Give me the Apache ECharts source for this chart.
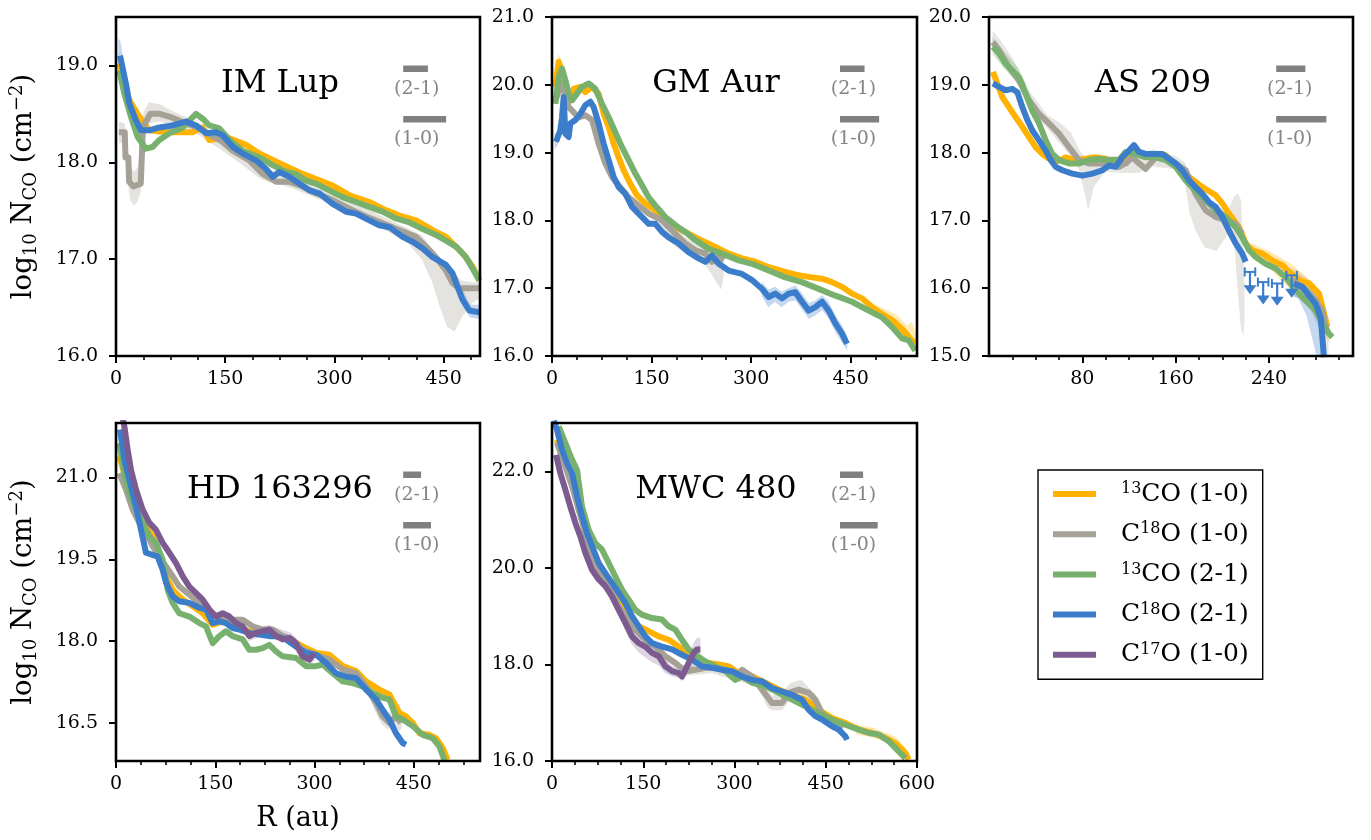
<!DOCTYPE html>
<html><head><meta charset="utf-8">
<script src="https://cdn.jsdelivr.net/npm/echarts@6/dist/echarts.min.js"></script>
<style>html,body{margin:0;padding:0;background:#fff}#c{width:1371px;height:840px}</style>
</head><body><div id="c"></div>
<script>
// ---------------- DATA (R in au, log10 N_CO in cm^-2) ----------------
const SERIES_NAMES = ['13CO (1-0)', 'C18O (1-0)', '13CO (2-1)', 'C18O (2-1)', 'C17O (1-0)'];
const PANEL_TITLES = ['IM Lup', 'GM Aur', 'AS 209', 'HD 163296', 'MWC 480'];
const BEAM_21 = [34, 37, 25, 27, 38];   // au
const BEAM_10 = [59, 59, 43, 42, 62];   // au

// IM Lup
const IMLUP_13CO10 = [[4.6,19.02],[18.3,18.64],[32.1,18.47],[45.8,18.33],[68.7,18.31],[91.6,18.31],[105.3,18.31],[119.1,18.36],[128.2,18.23],[151.1,18.26],[178.6,18.18],[196.9,18.09],[224.4,17.99],[256.4,17.88],[297.6,17.76],[320.5,17.66],[348,17.59],[366.3,17.52],[389.2,17.45],[412.1,17.40],[435,17.30],[453.3,17.23],[476.2,17.06],[490,16.92],[499.1,16.78]];
const IMLUP_C18O10 = [[4,18.31],[12,18.31],[13,18.05],[17,18.05],[18,17.8],[24,17.75],[34,17.78],[37,18.36],[47,18.5],[60,18.5],[74,18.47],[90,18.42],[115,18.35],[130,18.28],[145,18.22],[160.3,18.12],[183.2,18.02],[201.5,17.88],[219.8,17.80],[238.1,17.80],[256.4,17.75],[274.7,17.68],[297.6,17.61],[320.5,17.52],[343.4,17.44],[366.3,17.37],[389.2,17.30],[412.1,17.23],[425.8,17.13],[439.6,17.02],[453.3,16.88],[462.5,16.75],[471.6,16.70],[500,16.70]];
const IMLUP_13CO21 = [[4.6,18.95],[11.4,18.71],[20.6,18.47],[29.8,18.26],[41.2,18.14],[50.4,18.16],[59.5,18.23],[73.3,18.30],[91.6,18.36],[109.9,18.50],[119.1,18.45],[128.2,18.38],[142,18.35],[155.7,18.23],[174,18.12],[196.9,18.05],[215.2,17.97],[233.5,17.90],[247.3,17.88],[261,17.81],[274.7,17.78],[293.1,17.71],[311.4,17.64],[329.7,17.59],[348,17.54],[366.3,17.49],[384.6,17.42],[403,17.38],[421.3,17.31],[439.6,17.25],[453.3,17.19],[467.1,17.13],[480.8,17.02],[490,16.90],[499.1,16.78]];
const IMLUP_C18O21 = [[5.5,19.10],[13.7,18.81],[18.3,18.61],[27.5,18.43],[34.3,18.33],[45.8,18.33],[59.5,18.36],[77.8,18.38],[96.2,18.42],[109.9,18.38],[123.6,18.30],[137.4,18.31],[146.5,18.28],[160.3,18.16],[174,18.09],[192.3,18.02],[206.1,17.93],[215.2,17.85],[224.4,17.90],[238.1,17.85],[251.8,17.78],[265.6,17.71],[279.3,17.68],[297.6,17.57],[316,17.49],[329.7,17.47],[348,17.40],[361.7,17.35],[375.5,17.33],[393.8,17.23],[407.5,17.18],[421.3,17.11],[435,17.02],[453.3,16.94],[462.5,16.85],[469.3,16.71],[476.2,16.58],[485.4,16.47],[499.1,16.45]];
const IMLUP_C18O10_BAND = [[4,18.2,18.42],[12,18.2,18.4],[14,17.95,18.2],[17,17.75,18.1],[20,17.6,17.95],[25,17.55,17.9],[30,17.6,17.95],[34,17.7,18.2],[37,18.2,18.5],[45,18.4,18.62],[60,18.42,18.6],[80,18.38,18.52],[110,18.3,18.42],[160,18.05,18.18],[200,17.82,17.95],[240,17.74,17.86],[300,17.55,17.67],[350,17.38,17.5],[400,17.17,17.32],[420,17.0,17.25],[435,16.75,17.1],[445,16.5,17.0],[455,16.3,16.95],[465,16.25,16.85],[475,16.4,16.78],[490,16.55,16.76],[500,16.6,16.76]];
const IMLUP_C18O21_BAND = [[3,18.95,19.28],[6,18.98,19.25],[9,18.85,19.12],[14,18.7,18.88],[20,18.5,18.65]];
const IMLUP_C18O21_BAND2 = [[462,16.8,16.92],[470,16.62,16.8],[478,16.5,16.66],[486,16.4,16.53],[500,16.38,16.53]];

// GM Aur
const GMAUR_13CO10 = [[5,19.97],[10,20.34],[15.1,20.21],[20.1,19.97],[25.1,19.77],[32.6,19.94],[42.7,19.97],[50.2,19.89],[60.3,19.97],[70.3,19.87],[77.9,19.57],[85.4,19.38],[92.9,19.13],[100.5,18.93],[108,18.74],[118,18.54],[128.1,18.37],[140.6,18.25],[155.7,18.15],[170.8,18.00],[185.9,17.90],[200.9,17.83],[216,17.75],[231.1,17.68],[246.1,17.61],[266.2,17.51],[286.3,17.44],[306.4,17.39],[326.5,17.31],[351.6,17.24],[371.7,17.19],[391.8,17.16],[406.9,17.14],[421.9,17.09],[437,17.02],[452.1,16.92],[467.1,16.85],[482.2,16.72],[497.3,16.62],[512.3,16.53],[527.4,16.40],[537.5,16.28],[547.5,16.18]];
const GMAUR_C18O10 = [[5,19.77],[15.1,20.02],[25.1,19.67],[40.2,19.52],[50.2,19.55],[60.3,19.48],[70.3,19.13],[80.4,18.84],[90.4,18.64],[100.5,18.52],[115.5,18.34],[130.6,18.22],[145.7,18.10],[165.8,18.00],[185.9,17.80],[200.9,17.66],[216,17.56],[231.1,17.51],[241.1,17.39],[251.2,17.46],[258.7,17.41]];
const GMAUR_13CO21 = [[5,19.72],[10,20.11],[15.1,20.24],[20.1,20.07],[25.1,19.87],[30.1,19.77],[37.7,19.87],[45.2,19.97],[55.3,20.02],[65.3,19.94],[75.3,19.72],[85.4,19.52],[95.4,19.30],[105.5,19.08],[115.5,18.89],[125.6,18.69],[135.6,18.52],[145.7,18.34],[155.7,18.22],[170.8,18.05],[185.9,17.93],[200.9,17.83],[216,17.71],[236.1,17.58],[256.2,17.51],[281.3,17.41],[301.4,17.36],[326.5,17.26],[351.6,17.16],[376.7,17.09],[401.8,16.99],[427,16.89],[452.1,16.80],[477.2,16.67],[497.3,16.57],[512.3,16.43],[527.4,16.26],[537.5,16.23],[547.5,16.08]];
const GMAUR_C18O21 = [[6,19.16],[12.6,19.33],[15.1,19.52],[17.6,19.82],[20.1,19.28],[25.1,19.23],[27.6,19.43],[35.2,19.48],[42.7,19.57],[50.2,19.70],[57.8,19.75],[62.8,19.67],[70.3,19.43],[77.9,19.13],[85.4,18.89],[92.9,18.64],[100.5,18.49],[110.5,18.39],[120.6,18.20],[130.6,18.10],[145.7,17.95],[155.7,17.95],[165.8,17.83],[175.8,17.75],[190.9,17.66],[205.9,17.53],[221,17.44],[231.1,17.39],[241.1,17.48],[251.2,17.36],[266.2,17.26],[286.3,17.21],[301.4,17.12],[316.4,16.99],[326.5,16.87],[336.5,16.92],[346.6,16.85],[356.6,16.92],[366.7,16.94],[376.7,16.80],[386.8,16.67],[396.8,16.72],[406.9,16.80],[416.9,16.67],[427,16.48],[437,16.33],[444.5,16.18]];
const GMAUR_13CO10_BAND = [[4,19.88,20.06],[10,20.24,20.46],[15,20.1,20.32],[20,19.9,20.05]];
const GMAUR_13CO10_BAND2 = [[480,16.66,16.8],[500,16.53,16.7],[520,16.4,16.6],[535,16.22,16.45],[542,16.18,16.5],[550,16.08,16.3]];
const GMAUR_C18O10_BAND = [[160,17.88,18.06],[175,17.72,17.95],[185,17.62,17.9],[200,17.52,17.76],[216,17.45,17.66],[230,17.36,17.62],[241,17.2,17.56],[250,17.05,17.56],[255,16.98,17.6],[259,17.2,17.55]];
const GMAUR_C18O21_BAND = [[4,19.05,19.28],[8,19.1,19.3],[12,19.2,19.45]];
const GMAUR_C18O21_BAND2 = [[316,16.88,17.1],[326,16.72,16.98],[336,16.8,17.02],[346,16.72,16.95],[356,16.8,17.0],[367,16.82,17.04],[377,16.68,16.92],[387,16.55,16.78],[397,16.6,16.82],[407,16.68,16.9],[417,16.55,16.8],[427,16.35,16.6],[437,16.2,16.45],[445,16.08,16.28]];

// AS 209
const AS209_13CO10 = [[3.4,19.19],[7.1,19.02],[11.4,18.82],[17.1,18.67],[22.9,18.52],[28.6,18.38],[34.3,18.23],[40,18.08],[45.7,17.98],[51.4,17.91],[57.1,17.86],[65.7,17.93],[74.3,17.89],[82.9,17.91],[91.4,17.93],[100,17.91],[108.6,17.84],[117.1,17.93],[125.7,18.01],[134.3,17.96],[142.9,17.98],[151.4,17.96],[160,17.81],[171.4,17.64],[182.9,17.49],[194.3,17.37],[200,17.25],[205.7,17.10],[214.3,16.90],[220,16.66],[225.7,16.56],[234.3,16.51],[242.9,16.41],[251.4,16.34],[257.1,16.24],[265.7,16.12],[274.3,16.07],[282.9,15.92],[288.6,15.53],[290,15.43]];
const AS209_C18O10 = [[3.4,19.63],[8.6,19.51],[17.1,19.26],[25.7,19.07],[34.3,18.77],[42.9,18.57],[51.4,18.43],[60,18.28],[68.6,18.08],[77.1,17.89],[85.7,17.84],[94.3,17.84],[102.9,17.84],[111.4,17.79],[117.1,17.84],[122.9,17.93],[128.6,17.84],[134.3,17.76],[142.9,17.93],[151.4,17.93],[160,17.84],[168.6,17.74],[177.1,17.39],[185.7,17.15],[194.3,17.05],[202.9,17.00],[211.4,16.95],[217.1,16.80],[240,null],[260,16.12],[271.4,15.97],[280,15.82],[285.7,15.67],[290,15.33]];
const AS209_13CO21 = [[3.4,19.56],[8.6,19.46],[14.3,19.31],[20,19.21],[25.7,19.11],[31.4,18.87],[37.1,18.62],[42.9,18.43],[48.6,18.18],[54.3,17.98],[60,17.89],[68.6,17.84],[77.1,17.84],[85.7,17.89],[94.3,17.91],[102.9,17.89],[111.4,17.89],[117.1,18.01],[125.7,17.98],[134.3,17.93],[142.9,17.93],[151.4,17.89],[160,17.79],[168.6,17.59],[177.1,17.44],[185.7,17.30],[194.3,17.15],[202.9,17.05],[211.4,16.90],[217.1,16.75],[222.9,16.56],[228.6,16.46],[237.1,16.36],[245.7,16.29],[254.3,16.16],[262.9,15.97],[271.4,15.82],[280,15.67],[285.7,15.48],[291.4,15.33],[294.3,15.28]];
const AS209_C18O21 = [[3.4,19.02],[8.6,18.97],[14.3,18.92],[20,18.94],[24.3,18.89],[28.6,18.67],[32.9,18.48],[37.1,18.33],[42.9,18.18],[48.6,18.03],[52.9,17.89],[57.1,17.79],[62.9,17.74],[71.4,17.69],[80,17.66],[88.6,17.69],[97.1,17.74],[102.9,17.81],[108.6,17.79],[114.3,17.93],[120,18.03],[124.3,18.11],[128.6,18.01],[134.3,17.98],[148.6,17.98],[154.3,17.91],[160,17.84],[165.7,17.74],[171.4,17.59],[177.1,17.49],[182.9,17.39],[188.6,17.27],[194.3,17.20],[200,17.05],[205.7,16.85],[211.4,16.66],[217.1,16.51],[220,16.39],[240,null],[261.4,16.07],[268.6,16.02],[274.3,15.89],[280,15.77],[284.3,15.57],[285.7,15.28],[287.1,14.98]];
const AS209_C18O21_ULIM = [[223.7,16.24],[235,16.09],[247,16.07],[259.4,16.19]];
const AS209_C18O10_BAND = [[3,19.5,19.8],[10,19.4,19.65],[20,19.15,19.4],[35,18.65,18.9],[50,18.35,18.55],[60,18.15,18.45],[70,17.95,18.3],[77,17.75,18.05],[82,17.4,17.95],[85,17.15,17.95],[90,17.5,17.95],[100,17.72,17.95],[115,17.7,17.95],[128,17.7,17.95],[140,17.8,18.05],[160,17.75,17.95],[168,17.55,17.85],[172,17.1,17.6],[177,16.85,17.5],[185,16.6,17.3],[195,16.55,17.2],[205,16.8,17.15],[210,16.7,17.35],[213,16.0,17.4],[216,15.4,17.3],[218,15.3,16.5],[219,15.5,16.0]];
const AS209_C18O10_BAND2 = [[258,15.9,16.3],[265,15.85,16.25],[275,15.7,16.1],[283,15.4,15.95],[288,15.1,15.75],[291,15.0,15.5]];
const AS209_C18O21_BAND = [[258,15.9,16.25],[265,15.85,16.2],[272,15.6,16.1],[278,15.2,15.95],[282,14.9,15.85],[286,14.9,15.6],[288,14.9,15.1]];
const AS209_13CO10_BAND = [[225,16.45,16.66],[240,16.3,16.55],[250,16.12,16.45],[260,15.95,16.35],[270,15.9,16.2],[280,15.6,16.05],[288,15.3,15.7],[292,15.2,15.45]];
const AS209_13CO21_BAND = [[3,19.45,19.7],[15,19.2,19.45],[25,19.0,19.25],[32,18.8,19.0]];

// HD 163296
const HD_13CO10 = [[5,21.39],[15.1,20.96],[25.2,20.53],[35.3,20.23],[45.3,20.10],[55.4,19.92],[65.5,19.62],[75.6,19.19],[85.6,18.94],[100.7,18.76],[115.9,18.64],[131,18.51],[146.1,18.30],[161.2,18.36],[181.3,18.27],[201.5,18.18],[221.6,18.15],[241.8,18.09],[261.9,18.03],[282.1,17.90],[302.2,17.78],[322.4,17.75],[342.5,17.54],[362.7,17.45],[377.8,17.26],[397.9,17.11],[413,17.02],[428.1,16.68],[438.2,16.62],[448.3,16.50],[458.4,16.31],[473.5,16.28],[483.6,16.22],[493.6,16.04],[501.2,15.82]];
const HD_C18O10 = [[5,21.08],[15.1,20.78],[25.2,20.41],[35.3,20.17],[45.3,19.98],[55.4,19.74],[65.5,19.55],[75.6,19.37],[85.6,19.19],[95.7,19.00],[110.8,18.85],[125.9,18.70],[141,18.51],[156.1,18.45],[176.3,18.39],[191.4,18.39],[206.5,18.27],[221.6,18.21],[236.7,18.21],[251.9,18.09],[267,18.03],[282.1,17.84],[302.2,17.75],[322.4,17.66],[342.5,17.48],[362.7,17.41],[377.8,17.17],[392.9,16.86],[403,16.62],[413,16.50],[423.1,16.62],[430.7,16.50]];
const HD_13CO21 = [[5,21.63],[12.6,21.08],[20.1,20.72],[30.2,20.41],[40.3,20.17],[50.4,19.92],[60.4,19.80],[70.5,19.49],[78.1,18.94],[85.6,18.70],[95.7,18.51],[110.8,18.45],[125.9,18.33],[136,18.27],[146.1,17.96],[156.1,18.09],[166.2,18.18],[176.3,18.09],[191.4,18.03],[201.5,17.84],[211.6,17.84],[221.6,17.87],[231.7,17.93],[241.8,17.81],[251.9,17.72],[272,17.69],[287.1,17.54],[302.2,17.54],[312.3,17.57],[327.4,17.41],[342.5,17.26],[357.6,17.23],[372.7,17.17],[387.8,17.05],[403,16.96],[413,16.93],[423.1,16.62],[433.2,16.56],[448.3,16.44],[463.4,16.28],[478.5,16.22],[488.6,16.07],[496.1,15.82]];
const HD_C18O21 = [[6,21.88],[12.6,21.33],[20.1,20.96],[30.2,20.47],[37.8,20.04],[45.3,19.62],[55.4,19.58],[63,19.55],[70.5,19.31],[75.6,19.07],[85.6,18.82],[95.7,18.73],[110.8,18.70],[125.9,18.61],[136,18.58],[146.1,18.33],[156.1,18.36],[166.2,18.33],[176.3,18.24],[186.4,18.21],[201.5,18.15],[216.6,18.12],[231.7,18.09],[241.8,18.09],[256.9,18.03],[272,17.90],[287.1,17.78],[302.2,17.75],[317.3,17.60],[332.4,17.41],[347.6,17.35],[362.7,17.32],[377.8,17.11],[392.9,16.93],[403,16.74],[413,16.56],[423.1,16.31],[433.2,16.13],[438.2,16.10]];
const HD_C17O10 = [[10,22.1],[12.6,21.94],[17.6,21.51],[22.7,21.14],[30.2,20.78],[40.3,20.41],[50.4,20.17],[60.4,20.04],[70.5,19.80],[80.6,19.62],[90.7,19.43],[100.7,19.19],[110.8,19.00],[121,18.88],[131,18.76],[141,18.58],[151.1,18.45],[161.2,18.51],[171.3,18.45],[181.3,18.33],[191.4,18.27],[201.5,18.09],[211.6,18.15],[221.6,18.18],[231.7,18.21],[241.8,18.09],[251.9,18.03],[261.9,18.06],[272,17.96],[282.1,17.72],[292.1,17.66],[299.7,17.78]];
const HD_C18O10_BAND = [[380,17.05,17.3],[390,16.75,17.02],[400,16.5,16.8],[410,16.38,16.65],[420,16.45,16.8],[428,16.35,16.85],[432,16.4,16.7]];
const HD_C17O10_BAND = [[200,18.0,18.2],[230,18.12,18.3],[265,17.95,18.15],[282,17.6,17.85],[292,17.55,17.8],[300,17.65,17.9]];

// MWC 480
const MWC_13CO10 = [[8.2,22.65],[16.4,22.31],[24.7,22.03],[32.9,21.83],[43.8,21.21],[54.8,20.79],[65.8,20.38],[76.7,20.10],[87.7,19.82],[98.6,19.55],[109.6,19.34],[120.6,19.13],[131.5,18.93],[142.5,18.79],[158.9,18.69],[175.4,18.58],[191.8,18.51],[208.2,18.37],[224.7,18.20],[241.1,18.10],[257.6,18.03],[274,18.00],[290.4,17.96],[306.9,17.82],[328.8,17.75],[350.7,17.62],[372.6,17.48],[394.6,17.37],[416.5,17.27],[438.4,17.06],[460.3,16.89],[482.2,16.79],[504.2,16.65],[526.1,16.58],[548,16.48],[564.4,16.37],[580.9,16.17],[586.4,16.03]];
const MWC_C18O10 = [[8.2,22.59],[21.9,22.10],[32.9,21.69],[43.8,21.21],[54.8,20.72],[65.8,20.24],[76.7,19.89],[87.7,19.69],[98.6,19.48],[109.6,19.20],[120.6,19.00],[137,18.72],[153.4,18.51],[169.9,18.37],[186.3,18.17],[202.8,18.03],[219.2,17.86],[235.6,17.89],[252.1,17.93],[268.5,17.93],[285,17.89],[301.4,17.75],[312.4,17.89],[328.8,17.75],[345.2,17.48],[361.7,17.20],[378.1,17.20],[389.1,17.41],[405.5,17.48],[422,17.41],[432.9,17.27],[443.9,16.99],[454.8,16.86],[465.8,16.72],[476.8,16.65]];
const MWC_13CO21 = [[11,22.93],[21.9,22.59],[32.9,22.24],[41.1,22.03],[49.3,21.27],[60.3,20.79],[71.2,20.51],[82.2,20.38],[93.2,20.10],[104.1,19.82],[115.1,19.55],[126,19.34],[137,19.13],[148,19.03],[164.4,18.96],[180.8,18.93],[191.8,18.79],[202.8,18.72],[213.7,18.51],[224.7,18.31],[235.6,18.20],[252.1,18.06],[268.5,17.96],[285,17.86],[301.4,17.68],[312.4,17.75],[328.8,17.62],[350.7,17.55],[372.6,17.41],[394.6,17.27],[416.5,17.13],[438.4,16.99],[460.3,16.86],[482.2,16.75],[504.2,16.65],[520.6,16.58],[537,16.55],[553.5,16.41],[569.9,16.20],[580.9,16.06]];
const MWC_C18O21 = [[3,23.05],[8.2,22.86],[16.4,22.45],[24.7,22.17],[32.9,21.96],[41.1,21.48],[49.3,21.07],[57.5,20.72],[65.8,20.45],[76.7,20.10],[87.7,19.89],[98.6,19.69],[109.6,19.48],[120.6,19.27],[131.5,19.00],[142.5,18.79],[153.4,18.58],[164.4,18.44],[180.8,18.37],[197.3,18.31],[213.7,18.20],[230.2,18.10],[246.6,17.96],[263,17.93],[279.5,17.89],[295.9,17.86],[312.4,17.75],[328.8,17.68],[345.2,17.65],[361.7,17.51],[378.1,17.44],[394.6,17.37],[411,17.27],[422,17.06],[432.9,16.93],[443.9,16.86],[460.3,16.72],[471.3,16.65],[482.2,16.51],[485,16.44]];
const MWC_C17O10 = [[6.6,22.34],[13.7,21.96],[21.9,21.62],[30.1,21.27],[38.4,20.93],[46.6,20.65],[54.8,20.31],[65.8,19.96],[76.7,19.76],[87.7,19.62],[98.6,19.41],[109.6,19.13],[120.6,18.86],[131.5,18.58],[142.5,18.44],[153.4,18.37],[164.4,18.24],[175.4,18.17],[186.3,17.96],[197.3,17.86],[208.2,17.82],[213.7,17.75],[219.2,17.89],[224.7,18.03],[232.9,18.24],[238.4,18.31],[243.9,18.31]];
const MWC_C18O10_BAND = [[215,17.75,17.98],[230,17.78,17.98],[250,17.8,18.0],[262,17.82,18.02],[335,17.55,17.8],[345,17.35,17.65],[355,17.1,17.45],[362,17.05,17.35],[370,17.05,17.4],[378,17.05,17.4],[390,17.25,17.6],[400,17.35,17.65],[410,17.35,17.68],[420,17.25,17.55],[432,17.1,17.4],[444,16.88,17.1]];
const MWC_C17O10_BAND = [[110,19.0,19.25],[120,18.72,19.0],[131,18.42,18.75],[142,18.25,18.62],[153,18.15,18.55],[164,18.05,18.45],[175,17.98,18.35],[186,17.82,18.1],[197,17.75,17.98],[208,17.72,17.92],[214,17.65,17.85],[219,17.75,18.0],[225,17.85,18.2],[233,17.95,18.45],[238,18.0,18.55],[244,18.05,18.55]];
const MWC_13CO10_BAND = [[500,16.55,16.76],[530,16.48,16.68],[550,16.38,16.58],[565,16.25,16.5],[580,16.05,16.3],[587,15.95,16.15]];

// axis ticks
const X_TICKS = [[0,150,300,450],[0,150,300,450],[80,160,240],[0,150,300,450],[0,150,300,450,600]];
const X_MINOR_STEP = [37.5, 37.5, 20, 37.5, 37.5];
const Y_TICKS = [[16,17,18,19],[16,17,18,19,20,21],[15,16,17,18,19,20],[16.5,18,19.5,21],[16,18,20,22]];
const X_RANGE = [[0,500],[0,550],[0,312],[0,550],[0,600]];
const Y_RANGE = [[16,19.5],[16,21],[15,20],[15.8,22],[16,23]];

// ---------------- LAYOUT / STYLE ----------------
const FONT = 'DejaVu Serif';
const COLORS = ['#ffb300', '#a5a196', '#78b16d', '#3b7dca', '#7c5c90'];
const GRIDS = [
  {left:116, top:17, width:364, height:339},
  {left:552, top:17, width:365, height:339},
  {left:989, top:17, width:364, height:339},
  {left:116, top:423, width:364, height:338},
  {left:552, top:423, width:365, height:338}
];
const PANEL_LINES = [
  [[0,IMLUP_13CO10],[1,IMLUP_C18O10],[2,IMLUP_13CO21],[3,IMLUP_C18O21]],
  [[0,GMAUR_13CO10],[1,GMAUR_C18O10],[2,GMAUR_13CO21],[3,GMAUR_C18O21]],
  [[0,AS209_13CO10],[1,AS209_C18O10],[2,AS209_13CO21],[3,AS209_C18O21]],
  [[0,HD_13CO10],[1,HD_C18O10],[2,HD_13CO21],[3,HD_C18O21],[4,HD_C17O10]],
  [[0,MWC_13CO10],[1,MWC_C18O10],[2,MWC_13CO21],[3,MWC_C18O21],[4,MWC_C17O10]]
];
const PANEL_BANDS = [
  [[1,IMLUP_C18O10_BAND,0.3],[3,IMLUP_C18O21_BAND,0.3],[3,IMLUP_C18O21_BAND2,0.3]],
  [[0,GMAUR_13CO10_BAND,0.3],[0,GMAUR_13CO10_BAND2,0.3],[1,GMAUR_C18O10_BAND,0.3],[3,GMAUR_C18O21_BAND,0.3],[3,GMAUR_C18O21_BAND2,0.3]],
  [[1,AS209_C18O10_BAND,0.28],[1,AS209_C18O10_BAND2,0.28],[0,AS209_13CO10_BAND,0.3],[2,AS209_13CO21_BAND,0.3],[3,AS209_C18O21_BAND,0.3]],
  [[1,HD_C18O10_BAND,0.3],[4,HD_C17O10_BAND,0.25]],
  [[1,MWC_C18O10_BAND,0.3],[4,MWC_C17O10_BAND,0.25],[0,MWC_13CO10_BAND,0.3]]
];

const grid = [], xAxis = [], yAxis = [], series = [], graphic = [];
const textCommon = {fontFamily: FONT, color: '#000'};

function bandSeries(i, band, color, opacity) {
  return {
    type: 'custom', xAxisIndex: 2*i, yAxisIndex: i, data: band, encode: {x: 0, y: [1, 2]},
    z: 1, silent: true, animation: false,
    renderItem: function (params, api) {
      if (params.dataIndex !== 0) return null;
      const up = band.map(d => api.coord([d[0], d[2]]));
      const lo = band.map(d => api.coord([d[0], d[1]])).reverse();
      const cs = params.coordSys;
      return {type: 'polygon', shape: {points: up.concat(lo)},
        style: {fill: color, opacity: opacity},
        clipPath: {type: 'rect', shape: {x: cs.x, y: cs.y, width: cs.width, height: cs.height}}};
    }
  };
}

PANEL_TITLES.forEach((title, i) => {
  const g = GRIDS[i];
  const [xmin, xmax] = X_RANGE[i];
  const [ymin, ymax] = Y_RANGE[i];
  grid.push({left: g.left, top: g.top, width: g.width, height: g.height, show: false});
  const minor = [];
  for (let k = 1; k * X_MINOR_STEP[i] < xmax; k++) {
    const v = k * X_MINOR_STEP[i];
    if (!X_TICKS[i].some(t => Math.abs(t - v) < 1e-6)) minor.push(v);
  }
  xAxis.push({
    type: 'value', gridIndex: i, position: 'bottom', min: xmin, max: xmax,
    axisLine: {show: false}, splitLine: {show: false},
    axisTick: {show: true, customValues: X_TICKS[i], length: 7, lineStyle: {color: '#000', width: 2}},
    axisLabel: {show: true, customValues: X_TICKS[i], formatter: v => String(v), margin: 14, fontSize: 19, ...textCommon},
    name: i === 3 ? 'R (au)' : '', nameLocation: 'middle', nameGap: 44,
    nameTextStyle: {fontSize: 27, ...textCommon}
  });
  xAxis.push({
    type: 'value', gridIndex: i, position: 'bottom', min: xmin, max: xmax,
    axisLine: {show: false}, splitLine: {show: false}, axisLabel: {show: false},
    axisTick: {show: true, customValues: minor, length: 4, lineStyle: {color: '#000', width: 1.6}}
  });
  yAxis.push({
    type: 'value', gridIndex: i, position: 'left', min: ymin, max: ymax,
    axisLine: {show: false}, splitLine: {show: false},
    axisTick: {show: true, customValues: Y_TICKS[i], length: 7, lineStyle: {color: '#000', width: 2}},
    axisLabel: {show: true, customValues: Y_TICKS[i], formatter: v => v.toFixed(1), margin: 18, fontSize: 19, ...textCommon},
    name: (i === 0 || i === 3) ? '{t|log}{sub|10}{t| N}{sub|CO}{t| (cm}{sup|\u22122}{t|)}' : '',
    nameLocation: 'middle', nameGap: 76, nameRotate: 90,
    nameTextStyle: {fontSize: 27.5, ...textCommon, rich: {
      t: {fontSize: 27.5, fontFamily: FONT, color: '#000', lineHeight: 32},
      sub: {fontSize: 18, fontFamily: FONT, color: '#000', lineHeight: 18, verticalAlign: 'bottom'},
      sup: {fontSize: 18, fontFamily: FONT, color: '#000', lineHeight: 18, verticalAlign: 'top'}
    }}
  });

  // uncertainty bands
  PANEL_BANDS[i].forEach(([si, band, op]) => series.push(bandSeries(i, band, COLORS[si], op)));
  // profiles
  PANEL_LINES[i].forEach(([si, data]) => {
    series.push({
      type: 'line', name: SERIES_NAMES[si], xAxisIndex: 2*i, yAxisIndex: i, data: data,
      showSymbol: false, symbol: 'none', clip: true, z: 2 + si * 0.01, animation: false,
      connectNulls: false,
      itemStyle: {color: COLORS[si]},
      lineStyle: {color: COLORS[si], width: 6, join: 'round', cap: 'butt'}
    });
  });
  // beam bars (length = beam size in au)
  const x0 = xmin + 0.789 * (xmax - xmin);
  const yb21 = ymax - (51.7 / g.height) * (ymax - ymin);
  const yb10 = ymax - (102.3 / g.height) * (ymax - ymin);
  [[BEAM_21[i], yb21], [BEAM_10[i], yb10]].forEach(([b, yb]) => {
    series.push({
      type: 'line', xAxisIndex: 2*i, yAxisIndex: i, data: [[x0, yb], [x0 + b, yb]],
      showSymbol: false, symbol: 'none', silent: true, animation: false, z: 3,
      lineStyle: {color: '#808080', width: 6.5, cap: 'butt'}
    });
  });
  // titles & beam labels
  graphic.push({type: 'text', x: g.left + 164, y: g.top + 67, z: 50, silent: true,
    style: {text: title, fontFamily: FONT, fontSize: 32, fill: '#000', align: 'center', verticalAlign: 'middle'}});
  graphic.push({type: 'text', x: g.left + 0.789 * g.width + 13.5, y: g.top + 72.5, z: 50, silent: true,
    style: {text: '(2-1)', fontFamily: FONT, fontSize: 19, fill: '#858585', align: 'center', verticalAlign: 'middle'}});
  graphic.push({type: 'text', x: g.left + 0.789 * g.width + 13.5, y: g.top + 122.5, z: 50, silent: true,
    style: {text: '(1-0)', fontFamily: FONT, fontSize: 19, fill: '#858585', align: 'center', verticalAlign: 'middle'}});
  // frame
  graphic.push({type: 'rect', z: 100, silent: true,
    shape: {x: g.left, y: g.top, width: g.width, height: g.height},
    style: {fill: 'none', stroke: '#000', lineWidth: 2.6}});
});

// upper limits for AS 209 C18O (2-1)
const ULIM_XERR = 4.5, ULIM_LEN = 0.33;
series.push({
  type: 'custom', xAxisIndex: 4, yAxisIndex: 2, data: AS209_C18O21_ULIM, z: 4, silent: true, animation: false,
  renderItem: function (params, api) {
    const r = api.value(0), v = api.value(1);
    const c = api.coord([r, v]);
    const l = api.coord([r - ULIM_XERR, v]);
    const rr = api.coord([r + ULIM_XERR, v]);
    const tip = api.coord([r, v - ULIM_LEN]);
    const col = COLORS[3];
    const st = {stroke: col, lineWidth: 2};
    return {type: 'group', children: [
      {type: 'line', shape: {x1: l[0], y1: c[1], x2: rr[0], y2: c[1]}, style: st},
      {type: 'line', shape: {x1: l[0], y1: c[1] - 4.5, x2: l[0], y2: c[1] + 4.5}, style: st},
      {type: 'line', shape: {x1: rr[0], y1: c[1] - 4.5, x2: rr[0], y2: c[1] + 4.5}, style: st},
      {type: 'line', shape: {x1: c[0], y1: c[1], x2: c[0], y2: tip[1] - 8}, style: {stroke: col, lineWidth: 2.2}},
      {type: 'polygon', shape: {points: [[c[0] - 6.5, tip[1] - 9], [c[0] + 6.5, tip[1] - 9], [c[0], tip[1]]]}, style: {fill: col}}
    ]};
  }
});

const LEGEND_TEXT = {
  '13CO (1-0)': '{g|}{sup|13}{m|CO (1-0)}',
  'C18O (1-0)': '{g|}{m|C}{sup|18}{m|O (1-0)}',
  '13CO (2-1)': '{g|}{sup|13}{m|CO (2-1)}',
  'C18O (2-1)': '{g|}{m|C}{sup|18}{m|O (2-1)}',
  'C17O (1-0)': '{g|}{m|C}{sup|17}{m|O (1-0)}'
};

const option = {
  backgroundColor: '#fff',
  animation: false,
  grid, xAxis, yAxis, series, graphic,
  legend: {
    show: true, left: 1038, top: 470, orient: 'vertical', data: SERIES_NAMES,
    icon: 'rect', itemWidth: 43, itemHeight: 6, itemGap: 14.7,
    padding: [11, 14, 12, 15], borderColor: '#000', borderWidth: 1.4, borderRadius: 0,
    backgroundColor: '#fff', selectedMode: false,
    formatter: n => LEGEND_TEXT[n],
    textStyle: {fontFamily: FONT, fontSize: 25, color: '#000', rich: {
      g: {width: 20},
      m: {fontFamily: FONT, fontSize: 25, color: '#000', lineHeight: 26},
      sup: {fontFamily: FONT, fontSize: 16, color: '#000', lineHeight: 16, verticalAlign: 'top'}
    }}
  }
};

const chart = echarts.init(document.getElementById('c'), null, {renderer: 'canvas'});
chart.setOption(option);
</script></body></html>
